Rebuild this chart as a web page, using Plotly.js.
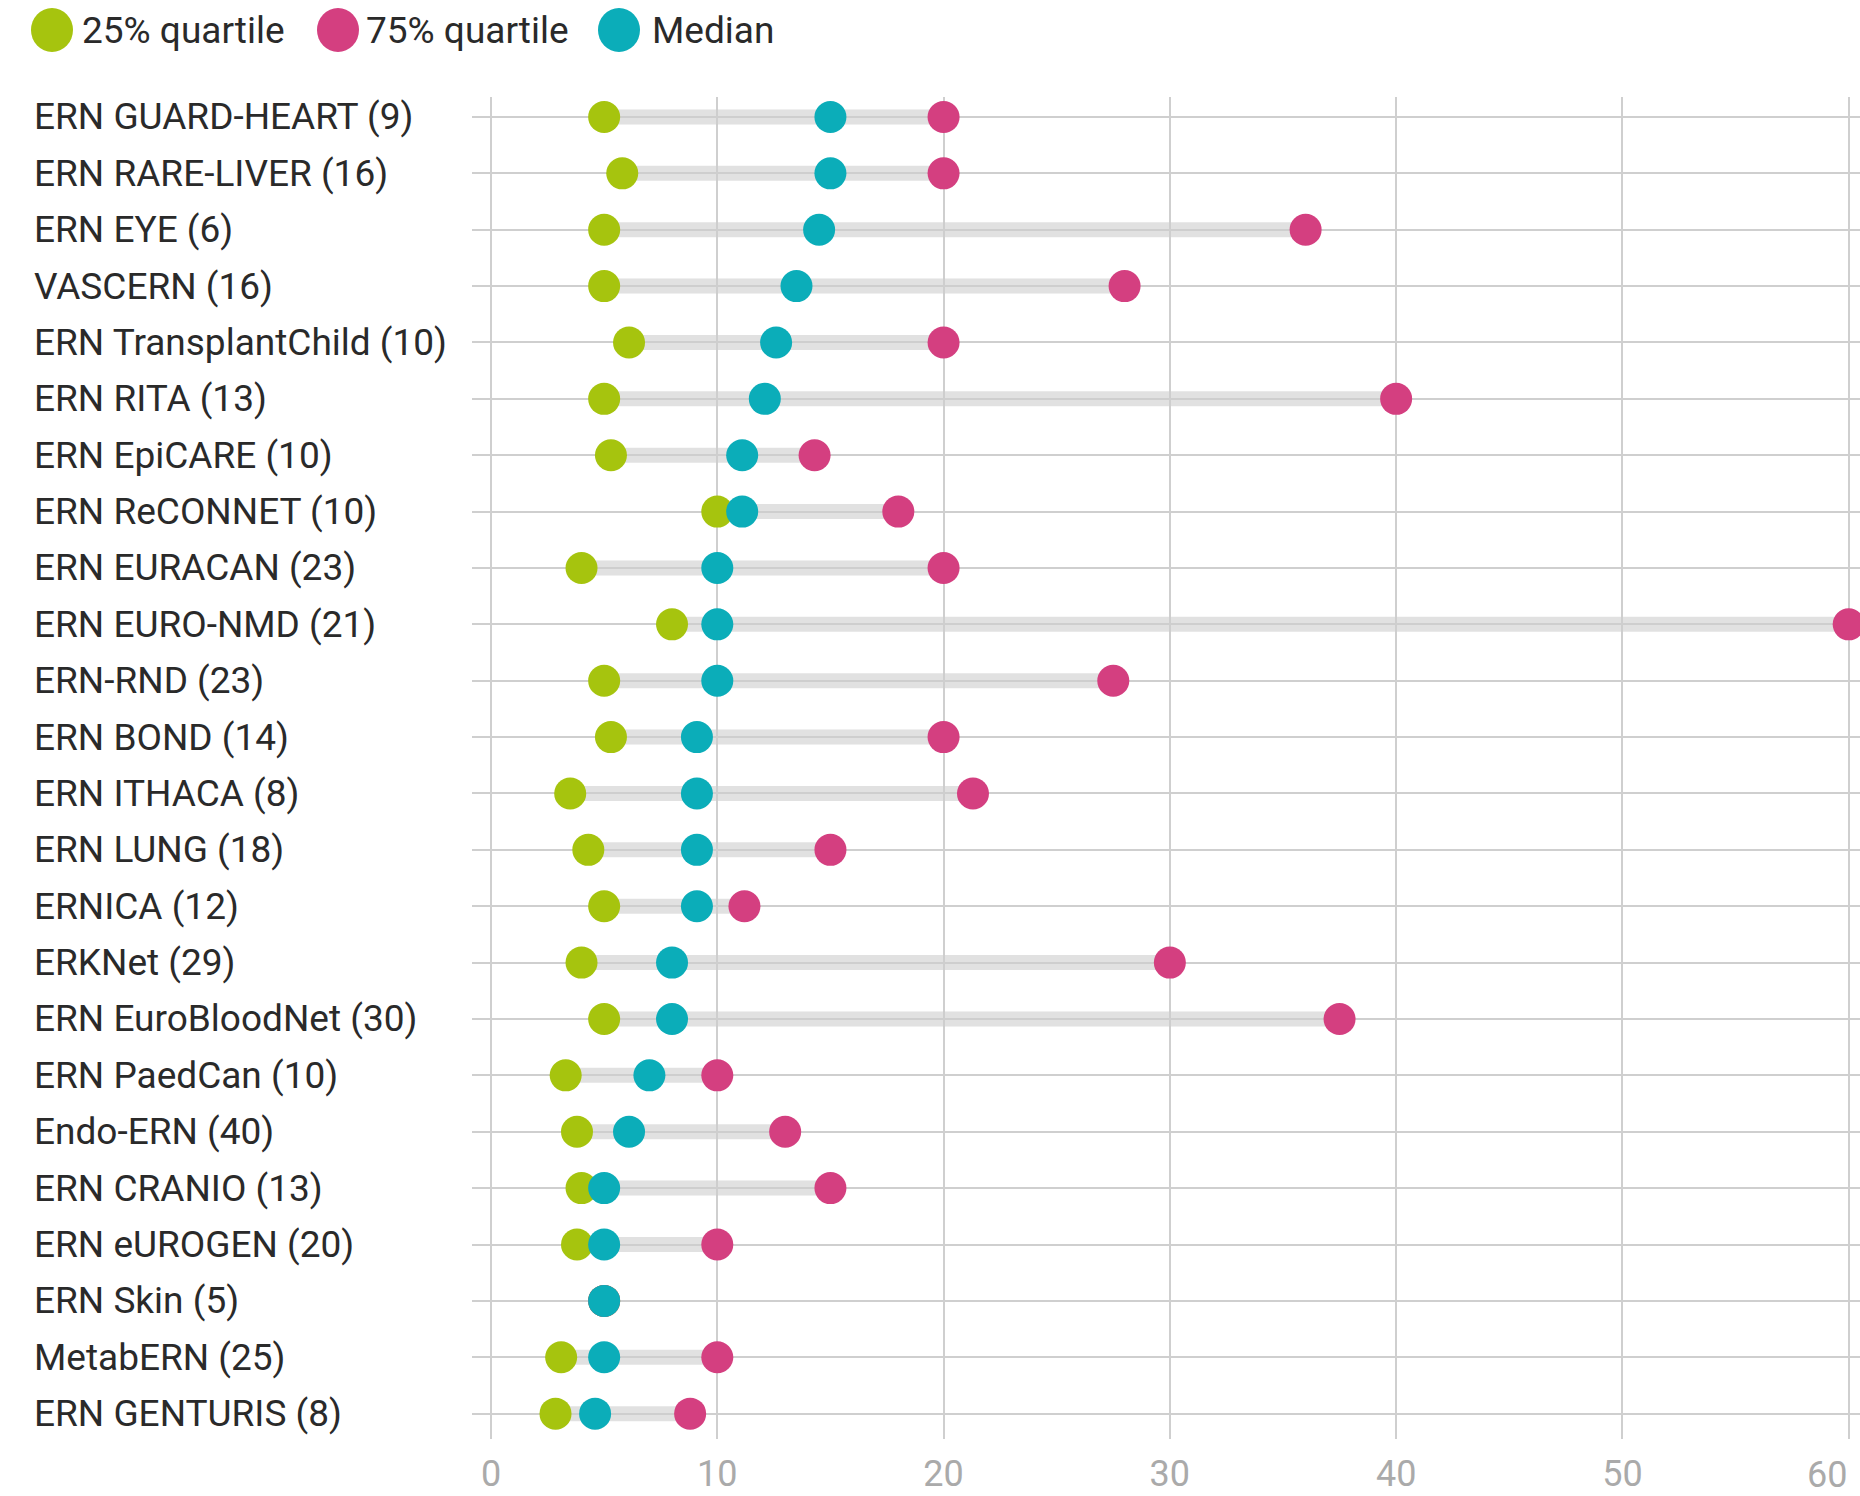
<!DOCTYPE html>
<html>
<head>
<meta charset="utf-8">
<script src="https://cdn.plot.ly/plotly-3.0.1.min.js"></script>
<style>html,body{margin:0;padding:0;background:#fff;}#chart{width:1860px;height:1496px;}</style>
</head>
<body>
<div id="chart"></div>
<script>
const categories = [
  "ERN GUARD-HEART (9)", "ERN RARE-LIVER (16)", "ERN EYE (6)", "VASCERN (16)",
  "ERN TransplantChild (10)", "ERN RITA (13)", "ERN EpiCARE (10)", "ERN ReCONNET (10)",
  "ERN EURACAN (23)", "ERN EURO-NMD (21)", "ERN-RND (23)", "ERN BOND (14)",
  "ERN ITHACA (8)", "ERN LUNG (18)", "ERNICA (12)", "ERKNet (29)",
  "ERN EuroBloodNet (30)", "ERN PaedCan (10)", "Endo-ERN (40)", "ERN CRANIO (13)",
  "ERN eUROGEN (20)", "ERN Skin (5)", "MetabERN (25)", "ERN GENTURIS (8)"
];
const q25 = [5, 5.8, 5, 5, 6.1, 5, 5.3, 10, 4, 8, 5, 5.3, 3.5, 4.3, 5, 4, 5, 3.3, 3.8, 4, 3.8, 5, 3.1, 2.85];
const q75 = [20, 20, 36, 28, 20, 40, 14.3, 18, 20, 60, 27.5, 20, 21.3, 15, 11.2, 30, 37.5, 10, 13, 15, 10, 5, 10, 8.8];
const median = [15, 15, 14.5, 13.5, 12.6, 12.1, 11.1, 11.1, 10, 10, 10, 9.1, 9.1, 9.1, 9.1, 8, 8, 7, 6.1, 5, 5, 5, 5, 4.6];
const seriesNames = ["25% quartile", "75% quartile", "Median"];
const xTicks = [0, 10, 20, 30, 40, 50, 60];

const colors = {q25: "#a6c40e", q75: "#d43f80", med: "#0badb9"};

// connecting bars from min to max
const barX = [], barY = [];
categories.forEach((c, i) => {
  barX.push(Math.min(q25[i], median[i], q75[i]), Math.max(q25[i], median[i], q75[i]), null);
  barY.push(c, c, null);
});

const msize = 32;
const traces = [
  {x: barX, y: barY, type: "scatter", mode: "lines", line: {color: "rgba(205,205,205,0.6)", width: 15}, hoverinfo: "skip", showlegend: false},
  {x: q25, y: categories, type: "scatter", mode: "markers", name: seriesNames[0], marker: {color: colors.q25, size: msize}, showlegend: false},
  {x: q75, y: categories, type: "scatter", mode: "markers", name: seriesNames[1], marker: {color: colors.q75, size: msize}, showlegend: false},
  {x: median, y: categories, type: "scatter", mode: "markers", name: seriesNames[2], marker: {color: colors.med, size: msize}, showlegend: false}
];

const W = 1860, H = 1496;
const ml = 472, mr = 0, mt = 97, mb = 57;
const pw = W - ml - mr, ph = H - mt - mb;
const px2paperX = px => (px - ml) / pw;
const px2paperY = py => (H - mb - py) / ph;

const FONT = "Roboto, sans-serif";
const annotations = categories.map(c => ({
  xref: "paper", yref: "y", x: px2paperX(32), y: c, xanchor: "left", yanchor: "middle",
  text: c, showarrow: false, font: {family: FONT, size: 37, color: "#2a2a2a"}
}));

const legendCols = [colors.q25, colors.q75, colors.med];
const legendCircleX = [52, 338, 619];
const legendTextX = [80, 364, 650];
const legendY = 30;
const shapes = [];
seriesNames.forEach((n, i) => {
  shapes.push({type: "circle", xref: "paper", yref: "paper", xsizemode: "pixel", ysizemode: "pixel",
    xanchor: px2paperX(legendCircleX[i]), yanchor: px2paperY(legendY),
    x0: -21, x1: 21, y0: -22, y1: 22, fillcolor: legendCols[i], line: {width: 0}});
  annotations.push({xref: "paper", yref: "paper", x: px2paperX(legendTextX[i]), y: px2paperY(legendY),
    xanchor: "left", yanchor: "middle", text: n, showarrow: false,
    font: {family: FONT, size: 37, color: "#2a2a2a"}});
});

// last tick label sits flush-right against its gridline (as in the reference)
const lastTick = xTicks[xTicks.length - 1];
annotations.push({xref: "x", yref: "paper", x: lastTick, y: px2paperY(1475), xanchor: "right", yanchor: "middle",
  text: String(lastTick), showarrow: false, font: {family: FONT, size: 36, color: "#aaaaaa"}});

const layout = {
  width: W, height: H,
  margin: {l: ml, r: mr, t: mt, b: mb, pad: 0},
  paper_bgcolor: "#fff", plot_bgcolor: "#fff",
  showlegend: false,
  xaxis: {
    range: [-0.84, 60.5], tickvals: xTicks,
    ticktext: xTicks.map((v, i) => i === xTicks.length - 1 ? "" : String(v)),
    showgrid: true, gridcolor: "#cfcfcf", gridwidth: 2, zeroline: false, showline: false,
    ticks: "", ticklabelstandoff: 10, tickfont: {family: FONT, size: 36, color: "#aaaaaa"}
  },
  yaxis: {
    type: "category", categoryorder: "array", categoryarray: categories,
    range: [23.45, -0.354], showgrid: true, gridcolor: "#cfcfcf", gridwidth: 2,
    zeroline: false, showline: false, ticks: "", showticklabels: false
  },
  shapes: shapes,
  annotations: annotations
};

Plotly.newPlot("chart", traces, layout, {staticPlot: true});
</script>
</body>
</html>
